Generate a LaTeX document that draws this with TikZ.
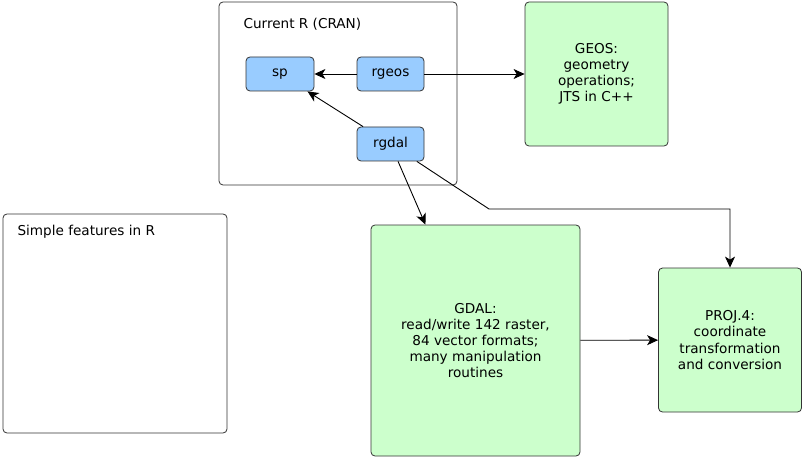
\documentclass[tikz,border=0pt]{standalone}
\usepackage{fontspec}
\setmainfont{DejaVu Sans}
\usetikzlibrary{arrows.meta,positioning}
\definecolor{edgegray}{RGB}{51,51,51}
\definecolor{pkgblue}{RGB}{153,204,255}
\definecolor{libgreen}{RGB}{204,255,204}

\begin{document}
\begin{tikzpicture}[x=1pt,y=-1pt,
    font=\fontsize{13.6}{16.1}\selectfont,
    frame/.style={rectangle,draw=edgegray,thick,rounded corners=4pt,fill=white},
    pkg/.style={rectangle,draw=edgegray,thick,fill=pkgblue,rounded corners=4pt,
      minimum width=67pt,minimum height=34pt,inner sep=0pt},
    lib/.style={rectangle,draw=edgegray,thick,fill=libgreen,rounded corners=4pt,
      align=center,inner sep=0pt},
    a/.style={-{Stealth[length=11pt,width=10pt,inset=3pt]},black,line width=0.9pt}]
    \useasboundingbox (0,0) rectangle (802,457);
    % boxes for the R sides
    \node[frame,minimum width=238pt,minimum height=183pt] (cran) at (338,93.5) {};
    \node[anchor=west] (cranlabel) at (240,24) {Current R (CRAN)};
    \node[frame,minimum width=224pt,minimum height=219pt] (sf) at (115,323.5) {};
    \node[anchor=west] (sflabel) at (14,232) {Simple features in R};
    % packages
    \node[pkg,minimum width=68pt] (sp) at (280,74) {sp};
    \node[pkg] (rgeos) at (390.5,74) {rgeos};
    \node[pkg] (rgdal) at (390.5,144) {rgdal};
    % libraries
    \node[lib,minimum width=143pt,minimum height=144pt] (geos) at (596.5,74)
      {GEOS:\\geometry\\operations;\\JTS in C++};
    \node[lib,minimum width=209pt,minimum height=231pt] (gdal) at (475.5,340.5)
      {GDAL:\\read/write 142 raster,\\84 vector formats;\\many manipulation\\routines};
    \node[lib,minimum width=143pt,minimum height=144pt] (proj) at (730,340)
      {PROJ.4:\\coordinate\\transformation\\and conversion};
    \coordinate (bend) at (489,209);
    \draw[a] (rgeos) -- (sp);
    \draw[a] (rgeos) -- (geos);
    \draw[a] (rgdal) -- (sp);
    \draw[a] (rgdal) -- (gdal);
    \draw[a] (rgdal) -- (bend) -| (proj);
    \draw[a] (gdal) -- (proj);
  \end{tikzpicture}
\end{document}
